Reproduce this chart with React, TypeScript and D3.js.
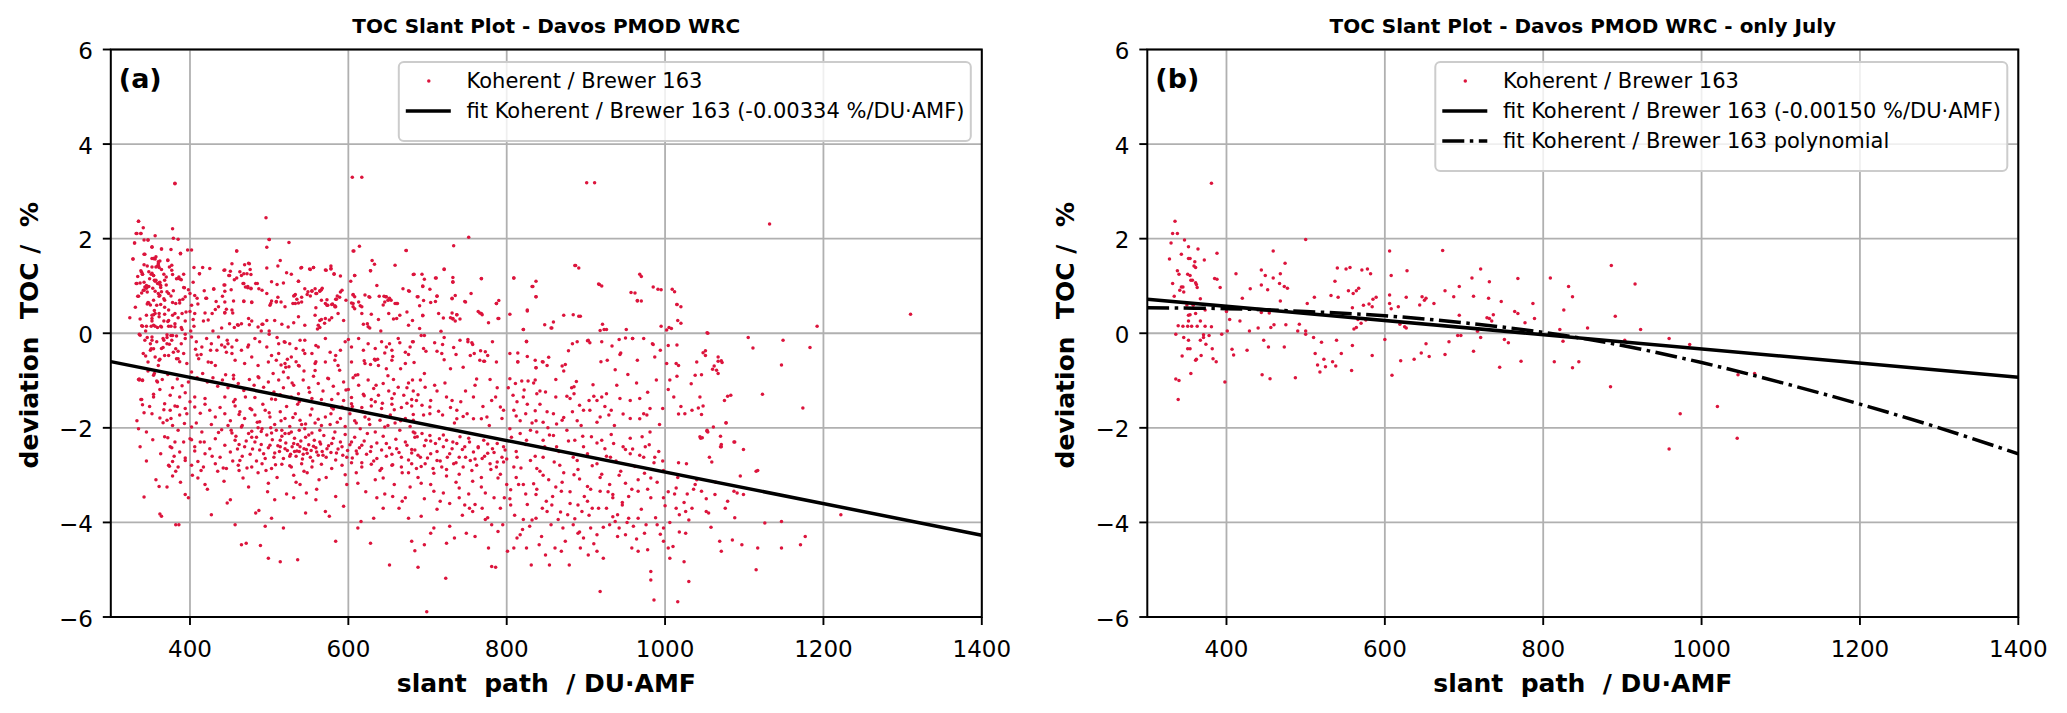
import { useEffect, useRef } from "react";
import * as d3 from "d3";

type Pt = [number, number];

// axes
const xDomain: [number, number] = [300, 1400];
const yDomain: [number, number] = [-6, 6];
const xTicks = [400, 600, 800, 1000, 1200, 1400];
const yTicks = [-6, -4, -2, 0, 2, 4, 6];

// Koherent / Brewer 163, only July (panel b, also part of panel a)
const julyPoints: Pt[] = [
    [381, 3.17], [335, 2.37], [332, 2.11], [338, 2.11], [330, 1.91], [347, 1.97], [352, 1.83], [364, 1.78], [343, 1.67], [388, 1.69],
    [328, 1.57], [352, 1.58], [354, 1.58], [360, 1.51], [372, 1.55], [359, 1.42], [361, 1.39], [338, 1.32], [340, 1.25], [351, 1.25],
    [354, 1.22], [355, 1.12], [357, 1.12], [385, 1.16], [388, 1.14], [332, 1.05], [361, 1.07], [362, 1.03], [363, 0.97], [343, 0.98],
    [345, 0.98], [341, 0.91], [346, 0.87], [392, 0.97], [334, 0.78], [367, 0.73], [358, 0.59], [350, 0.6], [373, 0.49], [361, 0.42],
    [352, 0.38], [354, 0.39], [339, 0.16], [352, 0.26], [367, 0.26], [345, 0.15], [351, 0.15], [356, 0.15], [363, 0.15], [373, 0.15],
    [381, 0.14], [336, -0.02], [346, -0.09], [371, -0.03], [378, -0.05], [371, -0.09], [394, -0.02], [367, -0.15], [374, -0.23], [352, -0.15],
    [351, -0.33], [354, -0.33], [382, -0.33], [368, -0.47], [344, -0.48], [362, -0.55], [361, -0.57], [383, -0.54], [387, -0.6], [355, -0.85],
    [336, -0.97], [340, -1.0], [398, -1.03], [339, -1.4], [400, 0.46], [401, 0.05],
    [412, 1.26], [404, 0.29], [417, 0.26], [407, -0.34], [409, -0.46], [420, 0.74], [430, 0.94], [426, -0.36], [429, 0.05], [444, 1.34],
    [449, 1.22], [452, 0.92], [444, 1.02], [444, 0.44], [454, 0.43], [440, 0.11], [447, -0.15], [453, -0.29], [445, -0.88], [455, -0.96],
    [459, 1.74], [459, 1.17], [460, 0.18], [456, 0.12], [467, 1.05], [474, 1.48], [468, 1.26], [473, 0.99], [477, 0.95], [468, 0.68],
    [475, 0.18], [473, -0.29], [487, -0.94], [492, 0.19], [490, 0.05], [500, 1.98], [502, 0.63], [511, 0.76], [500, 0.05], [500, -0.02],
    [510, -0.09], [520, -0.19], [512, -0.43], [515, -0.67], [518, -0.82], [523, -0.55], [525, -0.71], [532, 0.8], [537, 1.1], [541, 0.76],
    [540, 1.38], [539, -0.15], [534, -0.6], [538, -0.69], [545, -0.43], [551, 1.36], [556, 1.39], [554, 0.9], [560, 0.84], [564, 0.9],
    [567, 0.95], [559, 0.54], [561, 0.09], [564, 0.12], [559, -0.26], [558, -0.79], [571, 1.34], [578, 1.36], [582, 1.26], [573, 0.59],
    [580, 0.62], [585, 0.72], [589, 0.76], [584, 0.56], [566, 0.29], [570, 0.21], [576, 0.28], [584, -0.47], [600, -0.13], [606, 1.74],
    [608, 1.22], [606, 0.81], [606, 0.63], [608, 0.52], [617, 0.56], [627, 0.76], [628, 1.32], [619, 0.19], [625, 0.14], [627, 0.11],
    [620, -0.58], [609, -0.89], [637, -0.55], [644, 0.6], [647, 0.77], [650, 0.7], [652, 0.74], [662, 0.63], [646, -0.42], [652, -0.22],
    [656, -0.49], [673, 1.75], [676, 0.9], [687, 0.77], [694, 0.99], [694, 0.38], [692, -0.05], [696, -0.05], [681, -0.18], [676, -0.45],
    [710, 1.17], [712, 0.78], [721, 1.36], [731, 0.74], [732, 1.09], [729, 0.33], [732, 0.31], [737, 0.39], [735, 0.26], [717, 0.04],
    [721, -0.09], [712, -0.38], [747, 0.67], [751, -0.13], [756, -0.2], [745, -0.72], [768, 1.16], [764, 0.46], [768, 0.42], [777, 0.22],
    [772, -0.59], [787, 0.63], [789, 0.31], [809, 1.17], [814, -0.6], [821, 0.08], [825, -0.17], [826, 0.49], [832, 0.99], [837, 0.77],
    [837, -0.73], [845, -0.6], [856, 0.11], [886, 1.43], [891, 0.36], [885, -1.13], [903, -0.15], [916, 1.04], [923, 0.08], [959, -0.11],
    [959, -2.45], [973, -1.7], [985, -0.24], [1020, -1.55], [1046, -0.88], [1045, -2.22], [1067, -0.85],
];

// all months, upper left area
const upperLeftPoints: Pt[] = [
    [381, 3.16], [335, 2.37], [341, 2.23], [333, 2.11], [338, 2.11], [378, 2.21], [330, 1.91], [342, 1.97], [347, 1.97], [356, 2.06],
    [379, 2.01], [385, 1.99], [328, 1.57], [342, 1.67], [352, 1.82], [364, 1.78], [376, 1.77], [388, 1.68], [397, 1.76], [402, 1.76],
    [354, 1.58], [356, 1.57], [362, 1.53], [360, 1.47], [372, 1.54], [346, 1.42], [352, 1.4], [357, 1.4], [360, 1.43], [377, 1.44],
    [339, 1.29], [340, 1.25], [352, 1.27], [354, 1.22], [342, 1.08], [345, 1.01], [333, 1.05], [337, 1.06], [349, 1.15], [356, 1.1],
    [359, 1.05], [363, 1.01], [362, 1.08], [368, 1.12], [370, 1.19], [367, 1.25], [377, 1.33], [378, 1.24], [386, 1.19], [389, 1.13],
    [393, 0.96], [335, 0.78], [342, 0.91], [345, 0.95], [348, 0.99], [356, 0.89], [360, 0.84], [362, 0.8], [368, 0.7], [364, 0.88],
    [371, 0.88], [376, 0.79], [373, 0.84], [378, 0.65], [382, 0.63], [387, 0.64], [391, 0.72], [394, 0.77], [347, 0.65], [348, 0.64],
    [354, 0.7], [363, 0.61], [400, 0.84], [404, 1.08], [406, 0.8], [409, 0.74], [405, 1.39], [412, 1.26], [416, 1.39], [425, 1.37],
    [430, 0.93], [433, 0.67], [421, 0.74], [443, 1.33], [443, 1.02], [444, 0.89], [446, 0.51], [450, 1.22], [451, 1.31], [453, 1.47],
    [456, 1.13], [459, 1.74], [463, 1.3], [465, 1.22], [469, 1.45], [472, 1.26], [475, 1.47], [476, 1.35], [477, 1.24], [468, 1.05],
    [470, 0.98], [473, 0.96], [477, 0.94], [468, 0.67], [478, 0.65], [483, 1.05], [485, 1.05], [487, 0.94], [491, 0.91], [497, 0.84],
    [496, 2.44], [500, 1.98], [497, 1.82], [497, 1.38], [503, 1.09], [503, 0.68], [510, 1.03], [511, 1.42], [514, 1.54], [515, 0.66],
    [509, 0.67], [518, 1.06], [522, 1.28], [525, 1.92], [528, 1.25], [531, 0.79], [533, 0.82], [535, 0.72], [537, 1.1], [541, 1.39],
    [530, 0.63], [537, 0.64], [545, 0.94], [548, 0.82], [549, 0.88], [552, 0.79], [552, 1.35], [556, 1.39], [554, 0.89], [558, 0.94],
    [559, 0.84], [564, 0.89], [566, 0.92], [566, 0.7], [573, 0.71], [572, 1.33], [578, 1.42], [578, 1.37], [582, 1.25], [584, 0.72],
    [586, 0.79], [590, 0.87], [592, 0.91], [590, 1.21], [574, 0.59], [579, 0.61], [583, 0.58], [597, 0.7], [603, 1.1], [604, 0.64],
    [608, 1.22], [605, 3.3], [617, 3.3], [607, 1.74], [614, 1.84], [606, 0.82], [608, 0.77], [615, 0.58], [613, 0.66], [621, 0.81],
    [626, 0.77], [628, 1.32], [630, 1.54], [633, 1.46], [636, 1.01], [639, 0.78], [645, 0.78], [648, 0.77], [651, 0.71], [654, 0.7],
    [659, 0.63], [661, 0.63], [659, 1.44], [673, 1.75], [669, 0.94], [677, 0.89], [682, 1.24],
];

// all months, upper right area
const upperRightPoints: Pt[] = [
    [901, 3.18], [911, 3.18], [752, 2.03], [733, 1.85], [721, 1.35], [683, 1.25], [693, 1.25], [711, 1.17], [732, 1.18], [732, 1.08],
    [768, 1.15], [694, 1.0], [696, 1.14], [703, 0.93], [688, 0.77], [695, 0.69], [712, 0.79], [704, 0.65], [710, 0.67], [690, 0.58],
    [731, 0.73], [735, 0.8], [748, 0.66], [755, 0.84], [787, 0.63], [790, 0.69], [809, 1.17], [837, 1.1], [833, 0.99], [837, 0.77],
    [887, 1.43], [917, 1.03], [957, 0.86], [965, 0.69], [968, 1.25], [985, 0.98], [991, 0.93], [1009, 0.93], [1015, 0.61], [1310, 0.4],
    [1192, 0.15], [1132, 2.31], [1105, -0.09], [1111, -0.31], [1149, -0.15], [1183, -0.3], [1054, 0.0], [1051, -0.47], [1071, -0.58], [1020, 0.56],
    [1020, 0.21], [1012, 0.88], [995, 0.92], [970, 1.2], [962, 0.85], [970, 0.68], [920, 1.0], [891, 1.38], [1002, 0.07], [1008, 0.1],
];

// all months, centre left area
const centerLeftPoints: Pt[] = [
    [345, 0.38], [352, 0.31], [356, 0.42], [361, 0.35], [368, 0.4], [373, 0.27], [378, 0.38], [381, 0.2], [385, 0.33], [390, 0.42],
    [394, 0.26], [354, 0.17], [364, 0.13], [376, 0.15], [340, 0.15], [389, 0.12], [324, 0.33], [402, 0.59], [406, 0.42], [419, 0.43],
    [428, 0.42], [444, 0.43], [453, 0.49], [461, 0.17], [465, 0.2], [474, 0.31], [478, 0.26], [486, 0.13], [491, 0.19], [497, 0.27],
    [507, 0.27], [516, 0.19], [524, 0.13], [531, 0.22], [537, 0.35], [545, 0.17], [558, 0.38], [564, 0.27], [571, 0.31], [579, 0.33],
    [587, 0.42], [594, 0.27], [562, 0.17], [606, 0.56], [617, 0.42], [629, 0.4], [638, 0.29], [651, 0.42], [661, 0.31], [665, 0.38],
    [676, 0.17], [436, 0.56], [444, 0.66], [478, 0.66], [501, 0.59], [509, 0.66], [520, 0.56], [533, 0.63], [541, 0.66], [571, 0.63],
    [583, 0.56], [646, 0.66],
    [337, -0.04], [343, -0.15], [352, -0.08], [358, -0.18], [366, -0.11], [371, -0.22], [377, -0.15], [383, -0.06], [389, -0.22], [394, -0.11],
    [341, -0.43], [350, -0.36], [356, -0.5], [364, -0.32], [373, -0.47], [379, -0.4], [385, -0.54], [392, -0.43], [396, -0.64], [347, -0.61],
    [360, -0.68], [402, -0.08], [408, -0.18], [415, -0.29], [421, -0.11], [427, -0.22], [434, -0.36], [440, -0.25], [444, -0.29], [448, -0.22],
    [453, -0.43], [459, -0.15], [465, -0.36], [474, -0.25], [482, -0.11], [488, -0.18], [497, -0.29], [503, -0.47], [512, -0.22], [519, -0.18],
    [526, -0.22], [534, -0.32], [543, -0.36], [545, -0.15], [554, -0.43], [562, -0.29], [571, -0.11], [577, -0.4], [583, -0.57], [590, -0.36],
    [596, -0.18], [604, -0.29], [613, -0.11], [619, -0.36], [625, -0.22], [634, -0.32], [642, -0.18], [648, -0.29], [655, -0.36], [663, -0.11],
    [672, -0.4], [678, -0.29], [411, -0.54], [423, -0.61], [432, -0.68], [457, -0.57], [469, -0.64], [478, -0.5], [486, -0.68], [499, -0.61],
    [509, -0.57], [520, -0.64], [528, -0.5], [537, -0.68], [558, -0.64], [571, -0.61], [587, -0.68], [604, -0.61], [621, -0.64], [638, -0.68],
    [655, -0.57], [672, -0.64], [634, -0.57],
    [335, -0.98], [340, -0.99], [347, -0.8], [354, -0.89], [359, -1.03], [365, -0.98], [372, -0.87], [378, -1.15], [384, -0.97], [390, -1.11],
    [394, -1.26], [362, -1.19], [375, -1.31], [387, -1.35], [354, -1.35], [402, -0.82], [409, -0.94], [416, -0.85], [422, -1.03], [429, -0.94],
    [435, -1.12], [441, -0.99], [448, -1.15], [455, -0.89], [461, -1.06], [468, -1.21], [475, -0.98], [481, -1.1], [486, -0.92], [493, -1.14],
    [499, -1.03], [506, -1.24], [512, -0.99], [518, -1.15], [524, -0.94], [531, -1.1], [537, -1.28], [543, -0.99], [550, -1.15], [556, -0.91],
    [562, -1.06], [568, -1.22], [575, -0.96], [581, -1.12], [587, -1.28], [594, -1.03], [600, -1.19], [606, -0.94], [613, -1.1], [619, -1.29],
    [625, -0.99], [632, -1.17], [638, -1.31], [644, -1.06], [651, -1.22], [657, -0.98], [663, -1.14], [670, -1.31], [676, -1.05], [682, -1.22],
    [406, -1.35], [419, -1.38], [444, -1.35], [457, -1.4], [482, -1.36], [503, -1.39], [528, -1.35], [554, -1.38], [579, -1.4], [604, -1.36],
    [629, -1.4], [655, -1.38], [680, -1.4],
    [368, -1.49], [375, -1.63], [381, -1.54], [387, -1.73], [394, -1.59], [371, -1.84], [378, -1.95], [385, -2.05], [393, -1.91], [400, -1.45],
    [406, -1.56], [413, -1.69], [419, -1.5], [425, -1.63], [432, -1.77], [438, -1.57], [444, -1.7], [451, -1.85], [457, -1.54], [463, -1.66],
    [469, -1.8], [476, -1.59], [482, -1.73], [488, -1.87], [495, -1.63], [501, -1.77], [507, -1.93], [514, -1.66], [520, -1.8], [526, -1.97],
    [533, -1.7], [539, -1.84], [545, -2.02], [552, -1.73], [558, -1.9], [564, -2.05], [571, -1.77], [577, -1.93], [583, -2.09], [590, -1.8],
    [596, -1.97], [602, -1.7], [608, -1.85], [615, -2.02], [621, -1.77], [627, -1.93], [634, -2.09], [640, -1.84], [646, -1.98], [653, -1.73],
    [659, -1.9], [665, -2.05], [672, -1.8], [678, -1.97], [684, -2.11], [402, -1.98], [415, -2.09], [427, -1.93], [440, -2.04], [453, -2.11],
    [465, -1.98], [478, -2.07], [491, -2.02], [503, -2.11], [516, -2.05], [528, -2.09], [541, -1.93], [554, -2.11], [566, -1.95], [579, -1.57],
    [592, -1.56], [604, -1.49], [617, -1.57], [629, -1.54], [642, -1.59], [655, -1.5], [667, -1.57], [680, -1.54], [352, -1.7], [345, -2.09],
    [368, -2.19], [375, -2.4], [381, -2.3], [387, -2.51], [394, -2.69], [373, -2.79], [385, -2.83], [400, -2.23], [406, -2.4], [413, -2.3],
    [419, -2.55], [425, -2.44], [432, -2.23], [438, -2.62], [444, -2.37], [451, -2.51], [457, -2.26], [463, -2.69], [469, -2.4], [476, -2.56],
    [482, -2.3], [488, -2.47], [495, -2.65], [501, -2.37], [507, -2.53], [514, -2.26], [520, -2.44], [526, -2.6], [531, -2.33], [535, -2.49],
    [539, -2.4], [543, -2.56], [547, -2.46], [552, -2.62], [556, -2.39], [560, -2.51], [564, -2.3], [568, -2.58], [573, -2.44], [579, -2.33],
    [585, -2.53], [592, -2.4], [598, -2.62], [604, -2.3], [610, -2.49], [617, -2.37], [623, -2.56], [629, -2.4], [636, -2.65], [642, -2.47],
    [648, -2.33], [655, -2.56], [661, -2.44], [667, -2.62], [674, -2.37], [680, -2.53], [402, -2.79], [417, -2.83], [432, -2.76], [446, -2.86],
    [461, -2.79], [478, -2.83], [491, -2.76], [503, -2.86], [516, -2.77], [528, -2.83], [541, -2.76], [554, -2.83], [566, -2.77], [579, -2.86],
    [592, -2.79], [604, -2.74], [617, -2.83], [629, -2.77], [642, -2.86], [655, -2.79], [667, -2.83], [680, -2.76], [335, -2.02],
];

// all months, centre right area
const centerRightPoints: Pt[] = [
    [681, 0.27], [694, 0.37], [714, 0.42], [720, 0.32], [731, 0.43], [737, 0.39], [732, 0.3], [741, 0.3], [766, 0.43], [769, 0.39],
    [790, 0.31], [804, 0.4], [826, 0.47], [872, 0.38], [884, 0.39], [893, 0.36], [921, 0.19], [918, 0.06], [926, 0.08], [951, 0.08],
    [848, 0.18], [859, 0.24], [857, 0.11], [821, 0.08], [995, 0.15], [1005, 0.12], [1016, 0.27], [1015, 0.61], [965, 0.68], [1053, 0.01],
    [682, -0.18], [695, -0.32], [709, -0.2], [719, -0.24], [718, -0.43], [721, -0.56], [729, -0.75], [736, -0.45], [733, -0.3], [741, -0.15],
    [751, -0.18], [757, -0.24], [754, -0.47], [759, -0.43], [767, -0.37], [773, -0.39], [776, -0.47], [782, -0.18], [766, -0.57], [771, -0.59],
    [787, -0.61], [804, -0.43], [814, -0.42], [814, -0.61], [825, -0.18], [826, -0.49], [836, -0.57], [846, -0.61], [853, -0.51], [837, -0.73],
    [851, -0.68], [870, -0.69], [874, -0.66], [872, -0.8], [878, -0.37], [883, -0.22], [889, -0.18], [902, -0.16], [905, -0.2], [920, -0.18],
    [933, -0.27], [942, -0.13], [950, -0.1], [959, -0.11], [973, -0.11], [984, -0.22], [994, -0.36], [987, -0.5], [944, -0.42], [919, -0.6],
    [927, -0.57], [937, -0.77], [943, -0.45], [965, -0.57], [1004, -0.26], [1002, -0.64], [1015, -0.25], [1014, -0.64], [1017, -0.68], [1040, -0.61],
    [1048, -0.41], [1051, -0.37], [1067, -0.5], [1072, -0.62], [1060, -0.76], [1065, -0.78],
    [681, -0.99], [691, -0.99], [697, -1.14], [686, -1.42], [693, -1.52], [703, -1.56], [709, -1.1], [712, -1.22], [724, -1.35], [731, -1.42],
    [729, -1.57], [737, -1.63], [748, -1.22], [758, -1.35], [762, -0.97], [779, -0.98], [781, -1.42], [788, -1.15], [792, -1.56], [796, -1.63],
    [775, -1.77], [768, -1.81], [758, -1.81], [745, -1.76], [737, -1.81], [719, -1.73], [703, -1.7], [695, -1.73], [682, -1.84], [804, -0.96],
    [811, -1.06], [819, -1.01], [827, -1.01], [834, -1.05], [836, -0.99], [808, -1.31], [813, -1.45], [821, -1.35], [826, -1.5], [838, -1.28],
    [842, -1.22], [849, -1.24], [862, -0.98], [888, -1.02], [885, -1.28], [876, -1.33], [880, -1.38], [892, -1.52], [909, -1.09], [910, -1.33],
    [914, -1.42], [920, -1.35], [926, -1.28], [939, -1.1], [943, -1.38], [953, -0.87], [956, -1.42], [964, -1.05], [968, -1.38], [978, -1.25],
    [981, -1.59], [989, -0.99], [932, -1.63], [929, -1.73], [918, -1.77], [905, -1.63], [897, -1.63], [883, -1.66], [859, -1.7], [851, -1.66],
    [836, -1.64], [824, -1.7], [809, -1.63], [817, -1.85], [837, -1.85], [846, -1.88], [863, -1.92], [870, -1.84], [889, -1.85], [947, -1.71],
    [956, -1.8], [968, -1.81], [977, -1.73], [993, -1.93], [997, -1.59], [1004, -1.19], [1006, -0.99], [1015, -0.91], [1011, -1.35], [1017, -1.71],
    [1025, -1.7], [1034, -1.63], [1033, -1.07], [1038, -0.89], [1044, -1.35], [1048, -1.54], [1053, -2.07], [1047, -2.21], [1061, -1.98], [1070, -2.18],
    [1075, -1.42], [1083, -1.31], [1088, -2.3], [1077, -1.9], [1071, -2.4], [1056, -2.62],
    [682, -2.09], [687, -2.19], [693, -2.12], [698, -2.26], [703, -2.16], [710, -2.33], [715, -2.23], [720, -2.4], [724, -2.26], [731, -2.44],
    [737, -2.33], [741, -2.19], [747, -2.4], [753, -2.3], [758, -2.51], [764, -2.4], [771, -2.26], [776, -2.54], [782, -2.44], [788, -2.33],
    [794, -2.62], [798, -2.47], [684, -2.47], [691, -2.62], [697, -2.76], [704, -2.55], [712, -2.69], [718, -2.83], [725, -2.62], [733, -2.76],
    [740, -2.62], [745, -2.83], [754, -2.69], [762, -2.79], [769, -2.65], [779, -2.76], [787, -2.83], [796, -2.72], [686, -2.86], [707, -2.86],
    [804, -2.02], [817, -2.12], [825, -2.26], [838, -2.09], [846, -2.26], [859, -2.16], [863, -2.4], [876, -2.05], [886, -2.26], [897, -2.4],
    [907, -2.19], [920, -2.26], [924, -2.44], [935, -2.33], [947, -2.4], [956, -2.55], [971, -2.19], [975, -2.4], [973, -2.62], [981, -2.09],
    [987, -2.62], [997, -2.7], [1017, -2.74], [1027, -2.76], [1044, -2.19], [1053, -2.05], [1059, -2.72], [1070, -2.4], [813, -2.62], [830, -2.69],
    [846, -2.62], [867, -2.79], [889, -2.69], [914, -2.76], [931, -2.62], [809, -2.83], [838, -2.86],
];

// all months, lower area
const lowerPoints: Pt[] = [
    [342, -3.46], [362, -3.82], [364, -3.87], [382, -4.05], [386, -4.05], [374, -2.81], [378, -3.02], [361, -3.24], [394, -3.41], [398, -3.48],
    [410, -3.06], [419, -3.2], [427, -3.84], [435, -2.92], [443, -3.13], [447, -3.59], [451, -3.52], [457, -4.05], [465, -4.47], [471, -4.44],
    [483, -3.8], [487, -3.75], [489, -4.49], [495, -4.08], [503, -3.91], [507, -3.52], [499, -4.76], [514, -4.83], [518, -4.12], [531, -3.48],
    [536, -4.79], [539, -3.2], [546, -3.8], [547, -3.38], [559, -3.52], [571, -3.77], [576, -3.87], [584, -4.4], [594, -3.66], [612, -4.12],
    [616, -3.98], [628, -4.44], [632, -3.91], [636, -3.48], [644, -3.7], [652, -4.9], [656, -3.45], [664, -3.7], [672, -3.48], [676, -3.91],
    [680, -4.4], [684, -4.6], [688, -4.95], [692, -3.87], [696, -4.47], [699, -5.89], [704, -4.23], [708, -4.12], [716, -3.55], [723, -5.18],
    [724, -4.44], [728, -4.08], [734, -4.33], [740, -3.48], [747, -3.63], [753, -3.7], [757, -3.77], [749, -4.23], [760, -4.3], [769, -3.7],
    [773, -3.94], [777, -4.54], [781, -4.93], [786, -4.95], [781, -4.05], [789, -4.19], [795, -4.05], [797, -3.48], [805, -3.63], [801, -4.61],
    [809, -4.54], [813, -4.33], [817, -4.26], [821, -3.94], [829, -4.08], [837, -3.91], [825, -4.54], [831, -4.9], [841, -4.47], [845, -3.7],
    [851, -3.77], [857, -3.63], [849, -4.69], [854, -4.9], [861, -4.54], [865, -3.94], [871, -4.12], [877, -3.84], [884, -4.05], [869, -4.61],
    [879, -4.9], [890, -3.63], [895, -3.77], [902, -3.55], [908, -3.7], [890, -4.23], [897, -4.33], [906, -4.12], [914, -4.26], [893, -4.54],
    [903, -4.69], [914, -4.61], [922, -4.76], [926, -3.7], [934, -3.48], [940, -3.84], [946, -3.63], [930, -4.05], [937, -3.98], [942, -4.12],
    [950, -4.26], [918, -5.46], [954, -3.91], [960, -4.08], [966, -3.91], [974, -4.23], [958, -4.54], [966, -4.61], [978, -4.58], [982, -5.04],
    [982, -5.22], [986, -5.64], [990, -4.05], [998, -4.12], [998, -4.4], [1004, -4.54], [1010, -4.51], [1016, -5.68], [1006, -4.76], [1024, -4.83],
    [1014, -3.7], [1018, -3.84], [1026, -3.77], [1034, -3.7], [1026, -4.23], [1030, -5.25], [1046, -3.34], [1052, -3.77], [1055, -3.8], [1069, -4.4],
    [1071, -4.61], [1085, -4.37], [1097, -4.47], [1079, -3.55], [1115, -5.0], [1117, -4.54], [1126, -4.01], [1147, -3.98], [1147, -4.54], [1171, -4.47],
    [1177, -4.3], [1222, -3.84],
    [467, -3.06], [499, -3.17], [531, -3.0], [563, -3.1], [596, -2.99], [612, -3.17], [644, -3.06], [676, -2.95], [692, -3.17], [724, -3.02],
    [757, -3.13], [789, -3.06], [821, -3.2], [853, -3.1], [885, -2.99], [918, -3.34], [950, -3.17], [982, -3.06], [1014, -3.27], [1038, -3.2],
    [1063, -3.41], [1087, -3.34], [1095, -3.02], [1115, -2.92], [708, -3.34], [740, -3.27], [773, -3.38], [805, -3.31], [837, -3.41], [869, -3.34],
    [902, -3.24], [934, -3.41], [966, -3.34], [998, -3.48],
];

// all months, dense core of the cloud
const denseCorePoints: Pt[] = [
    [452, -2.05], [458, -2.18], [462, -2.35], [466, -1.95], [471, -2.28], [474, -2.12], [479, -2.45], [484, -2.2], [486, -2.0], [490, -2.35],
    [493, -2.55], [497, -2.15], [499, -2.42], [504, -2.25], [506, -2.62], [509, -2.05], [511, -2.38], [513, -2.5], [516, -2.18], [518, -2.65],
    [521, -2.32], [523, -2.48], [525, -2.12], [527, -2.56], [529, -2.4], [532, -2.22], [534, -2.6], [536, -2.35], [538, -2.5], [540, -2.28],
    [542, -2.66], [544, -2.44], [546, -2.2], [548, -2.54], [550, -2.36], [553, -2.48], [555, -2.7], [557, -2.26], [559, -2.42], [562, -2.58],
    [565, -2.34], [567, -2.5], [569, -2.16], [572, -2.62], [575, -2.38], [578, -2.52], [581, -2.22], [584, -2.68], [587, -2.45], [590, -2.3],
    [593, -2.58], [596, -2.14], [599, -2.48], [602, -2.36], [605, -2.64], [608, -2.2], [611, -2.55], [614, -2.42], [617, -2.74], [620, -2.28],
    [455, -1.45], [462, -1.72], [470, -1.35], [478, -1.62], [485, -1.88], [492, -1.5], [500, -1.68], [508, -1.4], [515, -1.85], [522, -1.55],
    [530, -1.78], [538, -1.45], [546, -1.92], [554, -1.6], [562, -1.82], [570, -1.5], [578, -1.7], [586, -1.88], [594, -1.42], [602, -1.62],
    [610, -1.9], [618, -1.66], [626, -1.82], [634, -1.45], [642, -1.74], [650, -1.95], [658, -1.62], [666, -1.85], [674, -1.48], [682, -1.72],
    [624, -2.12], [628, -2.5], [632, -2.7], [636, -2.32], [640, -2.9], [644, -2.18], [648, -2.6], [652, -2.42], [656, -2.78], [660, -2.24],
    [664, -2.52], [668, -2.95], [672, -2.3], [676, -2.68], [680, -2.46], [684, -2.2], [688, -2.58], [692, -2.82], [696, -2.38], [700, -2.64],
    [704, -2.28], [708, -2.96], [712, -2.5], [716, -2.7], [720, -2.15], [724, -2.88], [728, -2.55], [732, -2.3], [736, -2.74], [740, -2.98],
    [744, -2.46], [748, -2.62], [752, -2.22], [756, -2.9], [760, -2.66], [764, -2.42], [768, -3.05], [772, -2.6], [776, -2.34], [780, -2.88],
    [784, -2.52], [788, -2.72], [792, -2.98], [796, -2.4], [800, -2.66],
    [804, -3.5], [810, -3.85], [815, -3.2], [820, -4.15], [826, -3.62], [832, -3.95], [838, -3.3], [844, -4.3], [850, -3.55], [856, -4.05],
    [862, -3.25], [868, -3.78], [874, -4.4], [880, -3.6], [886, -3.92], [892, -4.2], [898, -3.45], [904, -3.85], [910, -4.45], [916, -3.7],
    [922, -4.1], [928, -3.35], [934, -3.88], [940, -4.3], [946, -3.58], [952, -4.0], [958, -3.3], [964, -4.35], [970, -3.72], [976, -4.05],
    [982, -3.48], [988, -3.9], [994, -4.25], [1000, -3.65], [1006, -4.0], [1012, -3.4], [1018, -4.2], [1024, -3.58], [1030, -3.95], [1036, -3.3],
    [806, -2.2], [812, -2.5], [818, -2.85], [824, -2.35], [830, -2.05], [836, -2.6], [842, -2.92], [848, -2.4], [854, -2.15], [860, -2.72],
    [866, -2.5], [872, -2.95], [878, -2.28], [884, -2.62], [890, -2.88], [896, -2.18], [902, -2.55], [908, -2.8], [914, -2.32], [920, -2.98],
    [926, -2.6], [932, -2.14], [938, -2.7], [944, -2.92], [950, -2.46], [956, -2.22], [962, -2.82], [968, -2.58], [974, -2.96], [980, -2.36],
    [986, -2.74], [992, -2.5], [998, -2.9],
    [331, 0.55], [334, 1.2], [337, 0.3], [339, 0.85], [342, 1.45], [344, 0.05], [346, 0.62], [348, 1.3], [350, -0.22], [353, 0.95],
    [355, 0.48], [357, 1.62], [359, 0.12], [361, 0.78], [364, 1.35], [366, -0.3], [368, 0.55], [370, 1.02], [372, 0.25], [374, 1.4],
    [376, -0.05], [379, 0.9], [381, 0.42], [383, 1.15], [385, -0.38], [387, 0.7], [390, 0.08], [392, 1.25], [395, 0.45], [398, 0.92],
    [405, 0.15], [410, 0.62], [414, -0.45], [418, 0.9], [423, 0.28], [427, -0.62], [432, 0.5], [436, -0.08], [441, 0.78], [446, -0.4],
    [450, 0.2], [455, 0.68],
    [333, -1.85], [337, -2.4], [345, -2.7], [349, -1.55], [353, -2.25], [357, -3.1], [363, -2.55], [367, -1.62], [371, -3.25], [376, -1.8],
    [380, -2.6], [384, -1.55], [388, -3.15], [392, -2.3], [396, -1.7], [403, -3.0], [408, -1.9], [414, -2.9], [418, -2.3], [422, -3.3],
    [624, 0.2], [633, -0.55], [641, 0.05], [648, -0.75], [657, 0.3], [665, -0.2], [674, 0.45], [683, -0.62], [690, 0.1], [698, -0.38],
];

// all months, second pass over the crowded band around the fit
const crowdedBandPoints: Pt[] = [
    [505, -0.85], [514, -1.3], [521, -0.72], [529, -1.05], [536, -1.5], [544, -0.8], [551, -1.25], [559, -0.6], [566, -1.4], [574, -0.95],
    [581, -1.6], [589, -0.78], [597, -1.2], [605, -1.55], [612, -0.88], [620, -1.32], [628, -0.66], [635, -1.1], [643, -1.48], [650, -0.9],
    [658, -1.28], [666, -0.75], [674, -1.15], [688, -1.3], [696, -0.85], [704, -1.42], [714, -1.65], [722, -1.05], [734, -1.9], [742, -1.45],
    [750, -1.7], [760, -1.1], [770, -1.55], [778, -1.95], [786, -1.35], [794, -1.8], [802, -1.15], [812, -1.75], [822, -1.2], [832, -1.9],
    [842, -1.5], [852, -2.0], [862, -1.35], [872, -1.78], [882, -1.15], [894, -1.95], [904, -1.42], [914, -1.88], [924, -1.55], [936, -1.95],
    [688, -3.05], [696, -3.5], [704, -3.2], [712, -3.72], [720, -3.38], [728, -3.6], [736, -3.15], [744, -3.85], [752, -3.4], [760, -3.62],
    [768, -3.25], [776, -3.9], [784, -3.48], [792, -3.7], [800, -3.2], [812, -3.05], [824, -3.4], [834, -3.18], [846, -3.0], [858, -3.45],
    [870, -3.15], [880, -3.35], [892, -3.08], [906, -3.3], [918, -3.05], [930, -3.2], [942, -3.0], [954, -3.45], [966, -3.1], [978, -3.3],
    [990, -3.15], [1004, -3.35], [1016, -3.05], [1028, -3.4], [1040, -3.1], [1052, -3.5], [1064, -3.15], [1076, -3.7], [1088, -3.9], [1058, -4.1],
    [462, -2.9], [474, -3.25], [486, -2.95], [498, -3.35], [510, -3.05], [522, -3.4], [534, -3.15], [548, -2.95], [560, -3.3], [572, -3.05],
    [584, -3.45], [598, -3.2], [610, -2.95], [622, -3.35], [634, -3.1], [646, -3.4], [658, -3.2], [668, -3.55], [678, -3.25], [428, -2.6],
    [436, -2.1], [442, -2.85], [448, -1.95], [454, -2.7], [460, -2.45], [466, -2.6], [472, -2.85], [478, -2.2], [484, -2.7], [490, -2.08],
    [496, -2.9], [502, -2.0], [508, -2.78], [514, -2.4], [520, -2.12], [526, -2.8], [532, -2.5], [538, -2.05], [544, -2.92], [550, -2.15],
];

// all months, outer edges
const farRightPoints: Pt[] = [
    [1147, -0.67], [1123, -1.29], [1174, -1.58], [1117, -2.9], [1099, -2.46], [1087, -2.3], [1079, -1.33], [1067, -0.59], [1062, -0.69], [1071, -2.35],
    [1054, -2.09], [1077, -1.89], [1042, -1.58], [1046, -1.72], [1091, -3.38], [1099, -3.41],
];
const leftColumnPoints: Pt[] = [
    [336, -0.99], [338, -1.4], [340, -1.51], [342, -1.68], [362, -1.79], [366, -1.89], [372, -2.21], [377, -2.42], [354, -1.29], [358, -1.01],
    [378, -2.71], [382, -2.92], [394, -2.64], [402, -2.25], [406, -2.49], [410, -2.71],
];

// fits
const fitAllX = [300, 1400];
const fitAllY = [-0.6, -4.27];
const fitJulyX = [300, 1400];
const fitJulyY = [0.72, -0.93];
const polyJulyX = [300, 400, 500, 600, 700, 800, 900, 1000, 1100, 1200, 1300, 1400];
const polyJulyY = [0.54, 0.52, 0.46, 0.37, 0.22, 0.02, -0.26, -0.62, -1.04, -1.5, -2.0, -2.55];

const titles = ["TOC Slant Plot - Davos PMOD WRC", "TOC Slant Plot - Davos PMOD WRC - only July"];
const panelTags = ["(a)", "(b)"];
const legendA = ["Koherent / Brewer 163", "fit Koherent / Brewer 163 (-0.00334 %/DU\u00b7AMF)"];
const legendB = [
    "Koherent / Brewer 163",
    "fit Koherent / Brewer 163 (-0.00150 %/DU\u00b7AMF)",
    "fit Koherent / Brewer 163 polynomial",
];
const xLabel = "slant  path  / DU\u00b7AMF";
const yLabel = "deviation  TOC /  %";

const allPoints: Pt[] = [
    ...upperLeftPoints, ...upperRightPoints, ...centerLeftPoints, ...centerRightPoints, ...lowerPoints,
    ...denseCorePoints, ...crowdedBandPoints, ...farRightPoints, ...leftColumnPoints, ...julyPoints,
];

const RED = "#dc143c";
const FONT = "DejaVu Sans";
const W = 871;
const TOP = 49.5;
const BOTTOM = 617;
const DASHDOT = "22,5.5,3.5,5.5";

interface PanelCfg {
    left: number;
    title: string;
    tag: string;
    points: Pt[];
    fit: Pt[];
    poly?: Pt[];
    legend: string[];
}

function drawPanel(svg: d3.Selection<SVGSVGElement, unknown, null, undefined>, p: PanelCfg) {
    const x = d3.scaleLinear().domain(xDomain).range([p.left, p.left + W]);
    const y = d3.scaleLinear().domain(yDomain).range([BOTTOM, TOP]);
    const g = svg.append("g").attr("font-family", FONT);

    // grid
    g.append("g").selectAll("line").data(xTicks).join("line")
        .attr("x1", d => x(d)).attr("x2", d => x(d)).attr("y1", TOP).attr("y2", BOTTOM)
        .attr("stroke", "#b0b0b0").attr("stroke-width", 1.8);
    g.append("g").selectAll("line").data(yTicks).join("line")
        .attr("x1", p.left).attr("x2", p.left + W).attr("y1", d => y(d)).attr("y2", d => y(d))
        .attr("stroke", "#b0b0b0").attr("stroke-width", 1.8);

    // scatter
    g.append("g").selectAll("circle").data(p.points).join("circle")
        .attr("cx", d => x(d[0])).attr("cy", d => y(d[1])).attr("r", 1.75).attr("fill", RED);

    // fit lines
    const line = d3.line<Pt>().x(d => x(d[0])).y(d => y(d[1]));
    g.append("path").datum(p.fit).attr("d", line)
        .attr("fill", "none").attr("stroke", "#000").attr("stroke-width", 3.5);
    if (p.poly) {
        g.append("path").datum(p.poly).attr("d", line.curve(d3.curveCatmullRom))
            .attr("fill", "none").attr("stroke", "#000").attr("stroke-width", 3.5)
            .attr("stroke-dasharray", DASHDOT);
    }

    // frame
    g.append("rect").attr("x", p.left).attr("y", TOP).attr("width", W).attr("height", BOTTOM - TOP)
        .attr("fill", "none").attr("stroke", "#000").attr("stroke-width", 2);

    // ticks
    g.append("g").selectAll("line").data(xTicks).join("line")
        .attr("x1", d => x(d)).attr("x2", d => x(d)).attr("y1", BOTTOM).attr("y2", BOTTOM + 8)
        .attr("stroke", "#000").attr("stroke-width", 1.9);
    g.append("g").selectAll("line").data(yTicks).join("line")
        .attr("x1", p.left - 8).attr("x2", p.left).attr("y1", d => y(d)).attr("y2", d => y(d))
        .attr("stroke", "#000").attr("stroke-width", 1.9);
    const fmt = (t: number) => (t < 0 ? "\u2212" + Math.abs(t) : String(t));
    g.append("g").selectAll("text").data(xTicks).join("text")
        .attr("x", d => x(d)).attr("y", 656.5).attr("text-anchor", "middle")
        .attr("font-size", 23).text(fmt);
    g.append("g").selectAll("text").data(yTicks).join("text")
        .attr("x", p.left - 18).attr("y", d => y(d) + 9.5).attr("text-anchor", "end")
        .attr("font-size", 23).text(fmt);

    // labels
    g.append("text").attr("x", p.left + W / 2).attr("y", 33).attr("text-anchor", "middle")
        .attr("font-size", 20).attr("font-weight", "bold").text(p.title);
    g.append("text").attr("x", p.left + W / 2).attr("y", 692).attr("text-anchor", "middle")
        .attr("font-size", 25).attr("font-weight", "bold").style("white-space", "pre").text(xLabel);
    g.append("text").attr("transform", `translate(${p.left - 73},${(TOP + BOTTOM) / 2 + 2}) rotate(-90)`)
        .attr("text-anchor", "middle").attr("font-size", 25).attr("font-weight", "bold")
        .style("white-space", "pre").text(yLabel);
    g.append("text").attr("x", p.left + 8).attr("y", 88).attr("font-size", 27)
        .attr("font-weight", "bold").text(p.tag);

    // legend
    const rowH = 30;
    const lw = 572;
    const lh = rowH * p.legend.length + 19;
    const lx = p.left + W - 11 - lw;
    const ly = 62;
    const lg = g.append("g");
    lg.append("rect").attr("x", lx).attr("y", ly).attr("width", lw).attr("height", lh)
        .attr("rx", 5).attr("fill", "#fff").attr("fill-opacity", 0.8)
        .attr("stroke", "#cccccc").attr("stroke-width", 2);
    p.legend.forEach((label, i) => {
        const base = 88.3 + i * rowH;
        const my = base - 7.4;
        if (i === 0) {
            lg.append("circle").attr("cx", lx + 30).attr("cy", my).attr("r", 1.75).attr("fill", RED);
        } else {
            const seg = lg.append("line").attr("x1", lx + 7).attr("x2", lx + 52).attr("y1", my).attr("y2", my)
                .attr("stroke", "#000").attr("stroke-width", 3.5);
            if (i === 2) seg.attr("stroke-dasharray", DASHDOT);
        }
        lg.append("text").attr("x", lx + 67.7).attr("y", base).attr("font-size", 21).text(label);
    });
}

export default function App() {
    const svgRef = useRef<SVGSVGElement | null>(null);

    useEffect(() => {
        if (!svgRef.current) return;
        const svg = d3.select<SVGSVGElement, unknown>(svgRef.current);
        svg.selectAll("*").remove();

        drawPanel(svg, {
            left: 110.8,
            title: titles[0],
            tag: panelTags[0],
            points: allPoints,
            fit: d3.zip(fitAllX, fitAllY) as Pt[],
            legend: legendA,
        });
        drawPanel(svg, {
            left: 1147.3,
            title: titles[1],
            tag: panelTags[1],
            points: julyPoints,
            fit: d3.zip(fitJulyX, fitJulyY) as Pt[],
            poly: d3.zip(polyJulyX, polyJulyY) as Pt[],
            legend: legendB,
        });
    }, []);

    return (
        <svg
            ref={svgRef}
            width={2067}
            height={713}
            style={{ position: "absolute", left: 0, top: 0, background: "#fff" }}
        />
    );
}
